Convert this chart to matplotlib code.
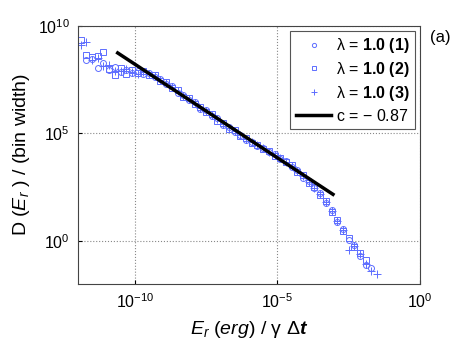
import matplotlib
matplotlib.use("Agg")
import matplotlib.pyplot as plt
import numpy as np

# log10 of bin centres, shared by the three runs
log_e = [-11.9, -11.7, -11.5, -11.3, -11.1, -10.9, -10.7, -10.5, -10.3, -10.1,
         -9.9, -9.7, -9.5, -9.3, -9.1, -8.9, -8.7, -8.5, -8.3, -8.1,
         -7.9, -7.7, -7.5, -7.3, -7.1, -6.9, -6.7, -6.5, -6.3, -6.1,
         -5.9, -5.7, -5.5, -5.3, -5.1, -4.9, -4.7, -4.5, -4.3, -4.1,
         -3.9, -3.7, -3.5, -3.3, -3.1, -2.9, -2.7, -2.5, -2.3, -2.1,
         -1.9, -1.7, -1.5]

# log10 of D(E_r)/(bin width) for each run (nan = empty bin)
log_d1 = [np.nan, 8.4, 8.45, 8.05, 8.25, 7.95, 8.1, 7.85, 7.95, 7.8,
          7.9, 7.75, 7.8, 7.6, 7.55, 7.3, 7.2, 6.9, 6.8, 6.55,
          6.45, 6.15, 6.1, 5.8, 5.7, 5.4, 5.3, 5.05, 4.95, 4.7,
          4.62, 4.42, 4.33, 4.12, 4.05, 3.82, 3.72, 3.45, 3.3, 2.95,
          2.8, 2.45, 2.25, 1.75, 1.45, 0.9, 0.55, 0.05, -0.2, -0.7,
          -1.1, -1.25, np.nan]
log_d2 = [9.35, 8.65, 8.55, 8.6, 8.8, 8.0, 7.7, 8.05, 7.75, 7.95,
          7.8, 7.9, 7.7, 7.7, 7.45, 7.4, 7.1, 7.0, 6.7, 6.65,
          6.35, 6.25, 6.0, 5.9, 5.6, 5.5, 5.2, 5.15, 4.9, 4.78,
          4.57, 4.48, 4.27, 4.18, 3.97, 3.88, 3.65, 3.52, 3.22, 3.05,
          2.7, 2.52, 2.15, 1.85, 1.35, 1.0, 0.45, 0.15, -0.3, -0.55,
          -0.9, np.nan, np.nan]
log_d3 = [9.1, 9.25, 8.4, 8.5, 8.15, 8.2, 7.9, 7.9, 8.0, 7.85,
          7.75, 7.85, 7.75, 7.65, 7.5, 7.35, 7.15, 6.95, 6.75, 6.6,
          6.4, 6.2, 6.05, 5.85, 5.65, 5.45, 5.25, 5.1, 4.92, 4.75,
          4.6, 4.45, 4.3, 4.15, 4.0, 3.85, 3.68, 3.48, 3.25, 3.0,
          2.75, 2.48, 2.2, 1.8, 1.4, 0.95, 0.5, -0.4, -0.25, -0.6,
          -1.05, -1.4, -1.55]

# power-law fit, slope c = -0.87
fit_log_e = [-10.6, -3.05]
fit_log_d = [8.74, 2.17]

labels = [r"λ = $\mathbf{1.0\ (1)}$",
          r"λ = $\mathbf{1.0\ (2)}$",
          r"λ = $\mathbf{1.0\ (3)}$"]
markers = ["o", "s", "+"]

plt.rcParams["font.family"] = "Liberation Sans"
plt.rcParams["mathtext.fontset"] = "custom"
plt.rcParams["mathtext.rm"] = "Liberation Sans"
plt.rcParams["mathtext.it"] = "Liberation Sans:italic"
plt.rcParams["mathtext.bf"] = "Liberation Sans:bold"
plt.rcParams["mathtext.bfit"] = "Liberation Sans:bold:italic"
plt.rcParams["mathtext.sf"] = "Liberation Sans"

fig = plt.figure(figsize=(4.63, 3.49), dpi=100)
ax = fig.add_axes([0.168, 0.186, 0.739, 0.740])

blue = "#5d6dff"
e = 10 ** np.array(log_e)
for ld, m, lab in zip([log_d1, log_d2, log_d3], markers, labels):
    ms = 5.5 if m == "+" else 4.3
    ax.plot(e, 10 ** np.array(ld), linestyle="none", marker=m, ms=ms,
            mfc="none", mec=blue, mew=0.7, label=lab)

ax.plot(10 ** np.array(fit_log_e), 10 ** np.array(fit_log_d), color="k",
        lw=2.5, label=r"c = $-$ 0.87")

ax.set_xscale("log")
ax.set_yscale("log")
ax.set_xlim(1e-12, 1e0)
ax.set_ylim(1e-2, 1e10)
ax.set_xticks([1e-10, 1e-5, 1e0])
ax.set_yticks([1e0, 1e5, 1e10])
ax.minorticks_off()
ax.tick_params(direction="in", length=3, labelsize=11.5, pad=6)
ax.grid(True, linestyle=":", color="#888888", linewidth=0.8)
for s in ax.spines.values():
    s.set_color("#444444")

ax.set_xlabel(r"$E_r\ \mathit{(erg)}\ /$ γ Δ$\mathbfit{t}$",
              fontsize=14, labelpad=6)
ax.set_ylabel(r"D ($E_r$ ) / (bin width)", fontsize=14, labelpad=4)

leg = ax.legend(loc="upper right", fontsize=11.5, handlelength=2.2,
                handletextpad=0.3, borderpad=0.35, labelspacing=0.3,
                fancybox=False, framealpha=1, borderaxespad=0.3,
                markerscale=0.7)
leg.get_frame().set_edgecolor("#555555")
leg.get_frame().set_linewidth(0.8)

fig.text(0.928, 0.88, "(a)", fontsize=12)

fig.savefig("out.png", dpi=100)
